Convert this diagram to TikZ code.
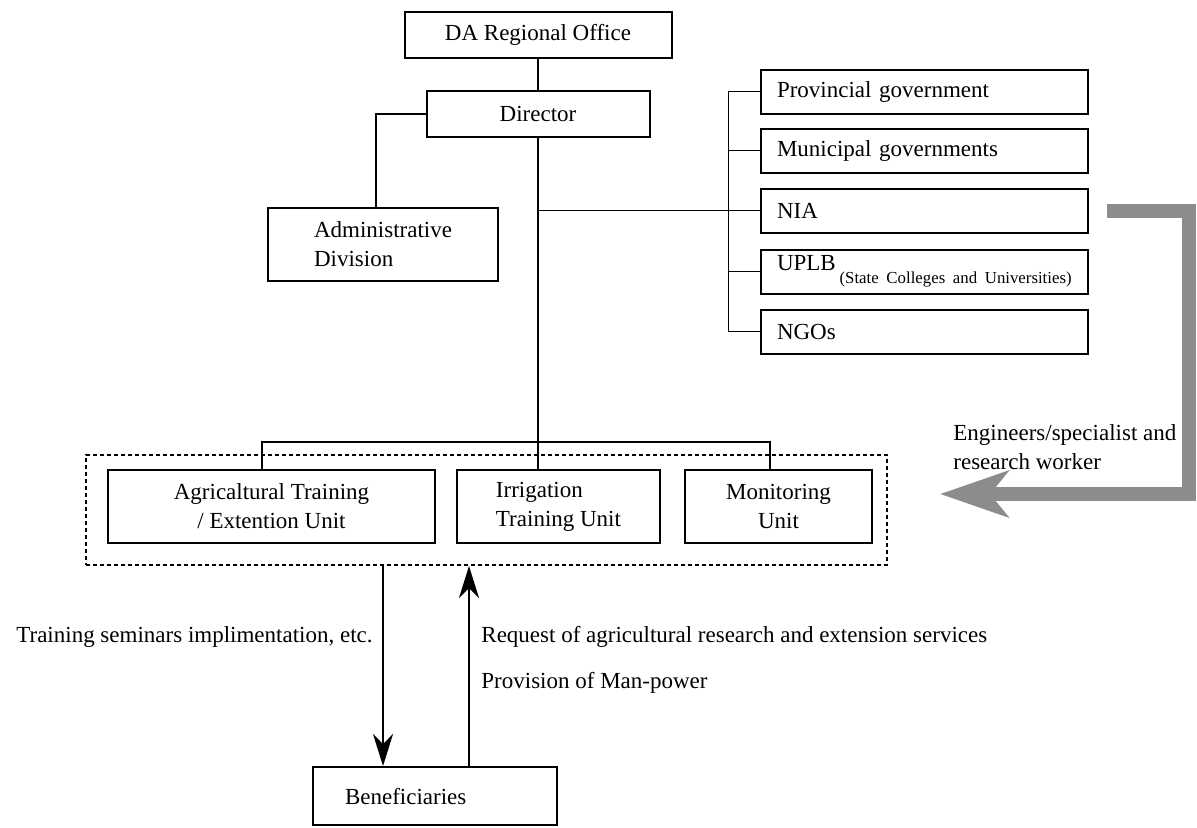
\documentclass[tikz,border=0pt]{standalone}
\usepackage{fontspec}
\setmainfont{Liberation Serif}
\usepackage{tikz}
\usetikzlibrary{arrows.meta, positioning}
\definecolor{bandgray}{RGB}{140,140,140}

\begin{document}
\begin{tikzpicture}[x=0.5pt, y=-0.5pt,
    orgbox/.style={rectangle, draw, line width=1pt, minimum height=23pt, align=center, inner sep=2pt, font=\fontsize{11.5pt}{14.5pt}\selectfont},
    unitbox/.style={orgbox, minimum height=36.5pt},
    partner/.style={orgbox, minimum width=163.5pt, minimum height=22pt, inner xsep=8pt, text width=147.5pt, align=left},
    link/.style={line width=1pt},
    thinlink/.style={line width=0.5pt},
    arrow/.style={-{Stealth[length=16pt, width=10pt, inset=5pt]}, line width=1pt},
    band/.style={-{Stealth[length=34pt, width=23pt, inset=9pt]}, line width=7pt, draw=bandgray, line join=miter},
    note/.style={font=\fontsize{11.5pt}{14.5pt}\selectfont, inner sep=0pt}
]
    \useasboundingbox (0,0) rectangle (1197,827);

    % Head office
    \node[orgbox, minimum width=133.5pt] (da) at (538,35) {DA Regional Office};
    \node[orgbox, minimum width=111.5pt] (dir) at (538,114) {Director};
    \node[orgbox, minimum width=115pt, minimum height=36.5pt, align=left] (adm) at (383,244.5) {Administrative\\Division};

    % Partners
    \node[partner] (prov) at (924.5,91.5) {Provincial government};
    \node[partner] (muni) at (924.5,150.5) {Municipal governments};
    \node[partner] (nia) at (924.5,210.5) {NIA};
    \node[partner] (uplb) at (924.5,271.5) {UPLB\,\raisebox{-6.5pt}{\fontsize{8.4pt}{10pt}\selectfont(State Colleges and Universities)}};
    \node[partner] (ngo) at (924.5,331.5) {NGOs};

    % Units
    \node[draw, line width=1pt, dash pattern=on 2pt off 1.5pt, minimum width=400.5pt, minimum height=55pt] (units) at (486.5,510) {};
    \node[unitbox, minimum width=163.5pt] (agri) at (271.5,506.5) {Agricaltural Training\\/ Extention Unit};
    \node[unitbox, minimum width=101.5pt, align=left] (irri) at (558.5,506.5) {Irrigation\\Training Unit};
    \node[unitbox, minimum width=93.5pt] (moni) at (778.5,506.5) {Monitoring\\Unit};

    % Beneficiaries
    \node[orgbox, minimum width=122pt, minimum height=29pt, inner xsep=16pt, text width=90pt, align=left] (ben) at (435,796) {Beneficiaries};

    % Labels
    \node[note, anchor=east] (ltrain) at (373,637) {Training seminars implimentation, etc.};
    \node[note, anchor=west] (lreq) at (481,637) {Request of agricultural research and extension services};
    \node[note, anchor=west] (lman) at (481,683) {Provision of Man-power};
    \node[note, anchor=west, align=left] (leng) at (953,447.5) {Engineers/specialist and\\research worker};

    % Lines
    \coordinate (bus) at (538,442);
    \draw[link] (da) -- (dir);
    \draw[link] (dir.west) -| ([xshift=-3.5pt]adm.north);
    \draw[link] (dir.south) -- (bus);
    \draw[link] ([xshift=-4.75pt]agri.north) |- (bus) -| ([xshift=-4.25pt]moni.north);
    \draw[link] (bus) -- (bus |- irri.north);
    \draw[thinlink] (prov.west) -- ++(-16pt,0) |- (ngo.west);
    \foreach \p in {muni, nia, uplb}
        \draw[thinlink] (\p.west) -- ++(-16pt,0);
    \draw[thinlink] (dir.south |- nia.west) -- (nia.west);

    % Arrows
    \coordinate (dn) at ([xshift=-26pt]ben.north);
    \coordinate (up) at ([xshift=17pt]ben.north);
    \draw[arrow] (dn |- units.south) -- (dn);
    \draw[arrow] (up) -- (up |- units.south);
    \coordinate (engtip) at (940,494);
    \draw[band] ([xshift=9pt]nia.east) -| (1189,494) -- (engtip);
\end{tikzpicture}
\end{document}
